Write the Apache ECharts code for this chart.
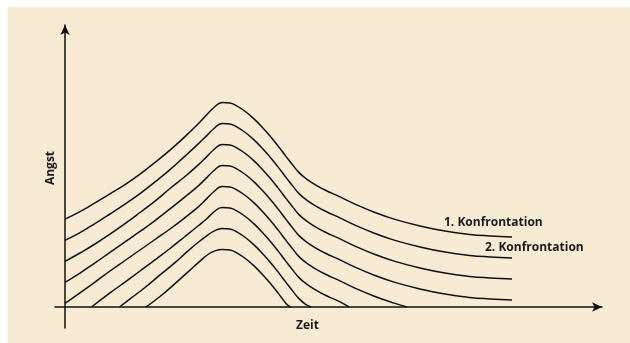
<!DOCTYPE html>
<html>
<head>
<meta charset="utf-8">
<script src="https://cdn.jsdelivr.net/npm/echarts@6/dist/echarts.min.js"></script>
<style>
  html, body { margin: 0; padding: 0; background: #ffffff; }
  #main { width: 630px; height: 343px; }
</style>
</head>
<body>
<div id="main"></div>
<script>
// Angst über Zeit, eine Kurve je Konfrontation: [Zeit, Angst]
var kurve1 = [[0,29.3],[3,31.8],[6,34.7],[9,37.7],[12,40.8],[15,44.3],[18,48.2],[21,52.3],[24,56.8],[26.6,61],
  [28.4,64.2],[29.8,66.5],[31.4,68.2],[33,68],[34.6,66.8],[36.2,65],[37.8,62.7],[39.4,60],[41,57],[42.6,53.7],
  [44.2,50.2],[45.6,47.2],[46.8,44.8],[48.2,42.8],[50,40.8],[52,39],[55,36.7],[58,34.3],[62,31.5],[66,29.2],
  [71,27],[76,25.3],[81,24.2],[85,23.7],[89.4,23.3]];
var kurve2 = [[0,22.2],[3,24.8],[6,27.8],[9,31],[12,34.3],[15,37.8],[18,41.7],[21,45.8],[24,50.3],[26.6,54.3],
  [28.4,57.2],[29.8,59.5],[31.4,61.2],[33,61],[34.6,59.8],[36.2,58],[37.8,55.7],[39.4,53],[41,50],[42.6,46.7],
  [44.2,43.2],[45.6,40.2],[46.8,37.8],[48.2,35.8],[50,33.8],[52,32],[55,29.7],[58,27.3],[62,24.5],[66,22.2],
  [71,20],[76,18.3],[81,17.2],[85,16.7],[89.4,16.3]];
var kurve3 = [[0,15.2],[3,18],[6,21],[9,24.3],[12,27.8],[15,31.5],[18,35.3],[21,39.5],[24,43.5],[26.6,47.3],
  [28.4,50.2],[29.8,52.5],[31.4,54.2],[33,54],[34.6,52.8],[36.2,51],[37.8,48.7],[39.4,46],[41,43],[42.6,39.7],
  [44.2,36.2],[45.6,33.2],[46.8,30.8],[48.2,28.8],[50,26.8],[52,25],[55,22.7],[58,20.3],[62,17.5],[66,15.2],
  [71,13],[76,11.3],[81,10.2],[85,9.7],[89.4,9.3]];
var kurve4 = [[0,8.2],[3,11.3],[6,14.7],[9,18.2],[12,21.7],[15,25.2],[18,28.8],[21,32.7],[24,36.7],[26.6,40.3],
  [28.4,43.2],[29.8,45.5],[31.4,47.2],[33,47],[34.6,45.8],[36.2,44],[37.8,41.7],[39.4,39],[41,36],[42.6,32.7],
  [44.2,29.2],[45.6,26.2],[46.8,23.8],[48.2,21.8],[50,19.8],[52,18],[55,15.7],[58,13.3],[62,10.5],[66,8.2],
  [71,6],[76,4.3],[81,3.2],[85,2.7],[89.4,2.3]];
var kurve5 = [[0,1.2],[3,4.7],[6,8.3],[9,12],[12,15.5],[15,19],[18,22.5],[21,26],[24,29.8],[26.6,33.3],
  [28.4,36.2],[29.8,38.5],[31.4,40.2],[33,40],[34.6,38.8],[36.2,37],[37.8,34.7],[39.4,32],[41,29],[42.6,25.7],
  [44.2,22.2],[45.6,19.2],[46.8,16.8],[48.2,14.8],[50,12.8],[52,11],[55,8.7],[58,6.3],[62,3.5],[66,1.2],[68.4,0]];
var kurve6 = [[5.3,0],[9,4.7],[12,8.3],[15,12],[18,15.7],[21,19.5],[24,23.5],[26.6,27],[28.4,29.5],[29.8,31.7],
  [31.4,33.2],[33,33],[34.6,31.8],[36.2,30],[37.8,27.7],[39.4,25],[41,22],[42.6,18.7],[44.2,15.2],[45.6,12.2],
  [46.8,9.8],[48.2,7.8],[50,5.8],[52,4],[55,1.7],[56.8,0]];
var kurve7 = [[10.9,0],[13,2.7],[16,6.5],[19,10.7],[22,14.8],[24.6,18.7],[26.6,21.5],[28.4,23.8],[29.8,25.3],
  [31.4,26.2],[33,26],[34.6,24.8],[36.2,23],[37.8,20.7],[39.4,18],[41,15],[42.6,11.7],[44.2,8.2],[45.6,5.2],
  [46.8,2.8],[48.2,0.8],[49.2,0]];
var kurve8 = [[16.2,0],[19,3.5],[22,7.8],[25,12.3],[27,15.3],[28.6,17.5],[30,18.7],[31.4,19.2],[33,19],
  [34.6,17.8],[36.2,16],[37.8,13.7],[39.4,11],[41,8],[42.6,4.7],[44.2,1.2],[45.1,0]];

var kurven = [kurve1, kurve2, kurve3, kurve4, kurve5, kurve6, kurve7, kurve8];
var beschriftungen = ['1. Konfrontation', '2. Konfrontation'];

var myChart = echarts.init(document.getElementById('main'));

var series = kurven.map(function (d) {
  return {
    type: 'line',
    data: d,
    smooth: 0.45,
    showSymbol: false,
    silent: true,
    lineStyle: { color: '#111111', width: 1.5 }
  };
});

var textFont = { fontFamily: 'Open Sans', fontWeight: 'bold', fontSize: 12, color: '#1a1a1a' };

option = {
  backgroundColor: 'transparent',
  animation: false,
  grid: { left: 55, right: 28, top: 25, bottom: 15, outerBoundsMode: 'none', containLabel: false },
  xAxis: {
    type: 'value',
    min: -2,
    max: 107.4,
    name: 'Zeit',
    nameLocation: 'middle',
    nameGap: -8,
    nameTextStyle: Object.assign({}, textFont, { padding: [0, 42, 0, 0] }),
    axisLine: { onZero: true, symbol: ['none', 'arrow'], symbolSize: [7, 10], lineStyle: { color: '#111111', width: 1.5 } },
    axisTick: { show: false },
    axisLabel: { show: false },
    splitLine: { show: false }
  },
  yAxis: {
    type: 'value',
    min: -7,
    max: 94,
    name: 'Angst',
    nameLocation: 'middle',
    nameGap: -2,
    nameRotate: 90,
    nameTextStyle: Object.assign({}, textFont, { padding: [0, 0, 0, 17] }),
    axisLine: { onZero: true, symbol: ['none', 'arrow'], symbolSize: [7, 10], lineStyle: { color: '#111111', width: 1.5 } },
    axisTick: { show: false },
    axisLabel: { show: false },
    splitLine: { show: false }
  },
  graphic: [
    { type: 'rect', z: -10, silent: true, shape: { x: 8, y: 7, width: 622, height: 336 }, style: { fill: '#f8ebd3' } },
    { type: 'text', left: 444, top: 217, style: { text: beschriftungen[0], font: 'bold 12px "Open Sans"', fill: '#1a1a1a' } },
    { type: 'text', left: 485, top: 242, style: { text: beschriftungen[1], font: 'bold 12px "Open Sans"', fill: '#1a1a1a' } }
  ],
  series: series
};

myChart.setOption(option);
</script>
</body>
</html>
